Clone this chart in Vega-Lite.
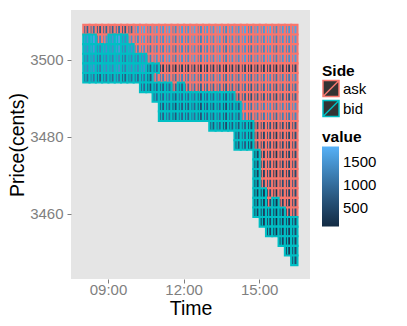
{
"$schema":"https://vega.github.io/schema/vega-lite/v6.json",
"width":239,"height":269,
"autosize":{"type":"none"},
"padding":{"left":71,"top":10,"right":97,"bottom":47},
"background":"white",
"config":{"font":"Liberation Sans","view":{"fill":"#E5E5E5","stroke":null},
"axis":{"domain":false,"labelColor":"#7F7F7F","labelFontSize":15,"tickColor":"#7F7F7F","tickSize":4,"titleFontSize":19.5,"titleFontWeight":"normal","titleColor":"black"}},
"data":{"values":[
{"t":480,"p":3508,"s":"ask","v":900},
{"t":495,"p":3508,"s":"ask","v":1050},
{"t":510,"p":3508,"s":"ask","v":750},{"t":510,"p":3505.5,"s":"ask","v":1300},
{"t":525,"p":3508,"s":"ask","v":950},{"t":525,"p":3505.5,"s":"ask","v":1500},
{"t":540,"p":3508,"s":"ask","v":900},
{"t":555,"p":3508,"s":"ask","v":1050},
{"t":570,"p":3508,"s":"ask","v":750},
{"t":585,"p":3508,"s":"ask","v":950},{"t":585,"p":3505.5,"s":"ask","v":1500},
{"t":600,"p":3508,"s":"ask","v":1550},{"t":600,"p":3505.5,"s":"ask","v":1450},{"t":600,"p":3503,"s":"ask","v":1350},
{"t":615,"p":3508,"s":"ask","v":1700},{"t":615,"p":3505.5,"s":"ask","v":1600},{"t":615,"p":3503,"s":"ask","v":1500},
{"t":630,"p":3508,"s":"ask","v":1400},{"t":630,"p":3505.5,"s":"ask","v":1300},{"t":630,"p":3503,"s":"ask","v":1200},{"t":630,"p":3500.5,"s":"ask","v":1300},
{"t":645,"p":3508,"s":"ask","v":1600},{"t":645,"p":3505.5,"s":"ask","v":1500},{"t":645,"p":3503,"s":"ask","v":1400},{"t":645,"p":3500.5,"s":"ask","v":1500},{"t":645,"p":3495.5,"s":"ask","v":1300},
{"t":660,"p":3508,"s":"ask","v":1550},{"t":660,"p":3505.5,"s":"ask","v":1450},{"t":660,"p":3503,"s":"ask","v":1350},{"t":660,"p":3500.5,"s":"ask","v":1450},{"t":660,"p":3498,"s":"ask","v":400},{"t":660,"p":3495.5,"s":"ask","v":1250},
{"t":675,"p":3508,"s":"ask","v":1700},{"t":675,"p":3505.5,"s":"ask","v":1600},{"t":675,"p":3503,"s":"ask","v":1500},{"t":675,"p":3500.5,"s":"ask","v":1600},{"t":675,"p":3498,"s":"ask","v":550},{"t":675,"p":3495.5,"s":"ask","v":1400},
{"t":690,"p":3508,"s":"ask","v":1400},{"t":690,"p":3505.5,"s":"ask","v":1300},{"t":690,"p":3503,"s":"ask","v":1200},{"t":690,"p":3500.5,"s":"ask","v":1300},{"t":690,"p":3498,"s":"ask","v":250},{"t":690,"p":3495.5,"s":"ask","v":1100},{"t":690,"p":3493,"s":"ask","v":850},
{"t":705,"p":3508,"s":"ask","v":1600},{"t":705,"p":3505.5,"s":"ask","v":1500},{"t":705,"p":3503,"s":"ask","v":1400},{"t":705,"p":3500.5,"s":"ask","v":1500},{"t":705,"p":3498,"s":"ask","v":450},{"t":705,"p":3495.5,"s":"ask","v":1300},
{"t":720,"p":3508,"s":"ask","v":1550},{"t":720,"p":3505.5,"s":"ask","v":1450},{"t":720,"p":3503,"s":"ask","v":1350},{"t":720,"p":3500.5,"s":"ask","v":1450},{"t":720,"p":3498,"s":"ask","v":400},{"t":720,"p":3495.5,"s":"ask","v":1250},{"t":720,"p":3493,"s":"ask","v":1000},
{"t":735,"p":3508,"s":"ask","v":1700},{"t":735,"p":3505.5,"s":"ask","v":1600},{"t":735,"p":3503,"s":"ask","v":1500},{"t":735,"p":3500.5,"s":"ask","v":1600},{"t":735,"p":3498,"s":"ask","v":550},{"t":735,"p":3495.5,"s":"ask","v":1400},{"t":735,"p":3493,"s":"ask","v":1150},
{"t":750,"p":3508,"s":"ask","v":1400},{"t":750,"p":3505.5,"s":"ask","v":1300},{"t":750,"p":3503,"s":"ask","v":1200},{"t":750,"p":3500.5,"s":"ask","v":1300},{"t":750,"p":3498,"s":"ask","v":250},{"t":750,"p":3495.5,"s":"ask","v":1100},{"t":750,"p":3493,"s":"ask","v":850},
{"t":765,"p":3508,"s":"ask","v":1600},{"t":765,"p":3505.5,"s":"ask","v":1500},{"t":765,"p":3503,"s":"ask","v":1400},{"t":765,"p":3500.5,"s":"ask","v":1500},{"t":765,"p":3498,"s":"ask","v":450},{"t":765,"p":3495.5,"s":"ask","v":1300},{"t":765,"p":3493,"s":"ask","v":1050},
{"t":780,"p":3508,"s":"ask","v":1550},{"t":780,"p":3505.5,"s":"ask","v":1450},{"t":780,"p":3503,"s":"ask","v":1350},{"t":780,"p":3500.5,"s":"ask","v":1450},{"t":780,"p":3498,"s":"ask","v":400},{"t":780,"p":3495.5,"s":"ask","v":1250},{"t":780,"p":3493,"s":"ask","v":1000},
{"t":795,"p":3508,"s":"ask","v":1700},{"t":795,"p":3505.5,"s":"ask","v":1600},{"t":795,"p":3503,"s":"ask","v":1500},{"t":795,"p":3500.5,"s":"ask","v":1600},{"t":795,"p":3498,"s":"ask","v":550},{"t":795,"p":3495.5,"s":"ask","v":1400},{"t":795,"p":3493,"s":"ask","v":1150},
{"t":810,"p":3508,"s":"ask","v":1400},{"t":810,"p":3505.5,"s":"ask","v":1300},{"t":810,"p":3503,"s":"ask","v":1200},{"t":810,"p":3500.5,"s":"ask","v":1300},{"t":810,"p":3498,"s":"ask","v":250},{"t":810,"p":3495.5,"s":"ask","v":1100},{"t":810,"p":3493,"s":"ask","v":850},
{"t":825,"p":3508,"s":"ask","v":1600},{"t":825,"p":3505.5,"s":"ask","v":1500},{"t":825,"p":3503,"s":"ask","v":1400},{"t":825,"p":3500.5,"s":"ask","v":1500},{"t":825,"p":3498,"s":"ask","v":450},{"t":825,"p":3495.5,"s":"ask","v":1300},{"t":825,"p":3493,"s":"ask","v":1050},
{"t":840,"p":3508,"s":"ask","v":1550},{"t":840,"p":3505.5,"s":"ask","v":1450},{"t":840,"p":3503,"s":"ask","v":1350},{"t":840,"p":3500.5,"s":"ask","v":1450},{"t":840,"p":3498,"s":"ask","v":400},{"t":840,"p":3495.5,"s":"ask","v":1250},{"t":840,"p":3493,"s":"ask","v":1000},{"t":840,"p":3490.5,"s":"ask","v":800},
{"t":855,"p":3508,"s":"ask","v":1700},{"t":855,"p":3505.5,"s":"ask","v":1600},{"t":855,"p":3503,"s":"ask","v":1500},{"t":855,"p":3500.5,"s":"ask","v":1600},{"t":855,"p":3498,"s":"ask","v":550},{"t":855,"p":3495.5,"s":"ask","v":1400},{"t":855,"p":3493,"s":"ask","v":1150},{"t":855,"p":3490.5,"s":"ask","v":950},{"t":855,"p":3488,"s":"ask","v":1450},{"t":855,"p":3485.5,"s":"ask","v":1350},
{"t":870,"p":3508,"s":"ask","v":1400},{"t":870,"p":3505.5,"s":"ask","v":1300},{"t":870,"p":3503,"s":"ask","v":1200},{"t":870,"p":3500.5,"s":"ask","v":1300},{"t":870,"p":3498,"s":"ask","v":250},{"t":870,"p":3495.5,"s":"ask","v":1100},{"t":870,"p":3493,"s":"ask","v":850},{"t":870,"p":3490.5,"s":"ask","v":650},{"t":870,"p":3488,"s":"ask","v":1150},{"t":870,"p":3485.5,"s":"ask","v":1050},
{"t":885,"p":3508,"s":"ask","v":1600},{"t":885,"p":3505.5,"s":"ask","v":1500},{"t":885,"p":3503,"s":"ask","v":1400},{"t":885,"p":3500.5,"s":"ask","v":1500},{"t":885,"p":3498,"s":"ask","v":450},{"t":885,"p":3495.5,"s":"ask","v":1300},{"t":885,"p":3493,"s":"ask","v":1050},{"t":885,"p":3490.5,"s":"ask","v":850},{"t":885,"p":3488,"s":"ask","v":1350},{"t":885,"p":3485.5,"s":"ask","v":1250},{"t":885,"p":3483,"s":"ask","v":650},{"t":885,"p":3480.5,"s":"ask","v":550},{"t":885,"p":3478,"s":"ask","v":600},
{"t":900,"p":3508,"s":"ask","v":1550},{"t":900,"p":3505.5,"s":"ask","v":1450},{"t":900,"p":3503,"s":"ask","v":1350},{"t":900,"p":3500.5,"s":"ask","v":1450},{"t":900,"p":3498,"s":"ask","v":400},{"t":900,"p":3495.5,"s":"ask","v":1250},{"t":900,"p":3493,"s":"ask","v":1000},{"t":900,"p":3490.5,"s":"ask","v":800},{"t":900,"p":3488,"s":"ask","v":1300},{"t":900,"p":3485.5,"s":"ask","v":1200},{"t":900,"p":3483,"s":"ask","v":600},{"t":900,"p":3480.5,"s":"ask","v":500},{"t":900,"p":3478,"s":"ask","v":550},{"t":900,"p":3475.5,"s":"ask","v":450},{"t":900,"p":3473,"s":"ask","v":500},{"t":900,"p":3470.5,"s":"ask","v":400},{"t":900,"p":3468,"s":"ask","v":550},
{"t":915,"p":3508,"s":"ask","v":1700},{"t":915,"p":3505.5,"s":"ask","v":1600},{"t":915,"p":3503,"s":"ask","v":1500},{"t":915,"p":3500.5,"s":"ask","v":1600},{"t":915,"p":3498,"s":"ask","v":550},{"t":915,"p":3495.5,"s":"ask","v":1400},{"t":915,"p":3493,"s":"ask","v":1150},{"t":915,"p":3490.5,"s":"ask","v":950},{"t":915,"p":3488,"s":"ask","v":1450},{"t":915,"p":3485.5,"s":"ask","v":1350},{"t":915,"p":3483,"s":"ask","v":750},{"t":915,"p":3480.5,"s":"ask","v":650},{"t":915,"p":3478,"s":"ask","v":700},{"t":915,"p":3475.5,"s":"ask","v":600},{"t":915,"p":3473,"s":"ask","v":650},{"t":915,"p":3470.5,"s":"ask","v":550},{"t":915,"p":3468,"s":"ask","v":700},{"t":915,"p":3465.5,"s":"ask","v":600},{"t":915,"p":3463,"s":"ask","v":550},
{"t":930,"p":3508,"s":"ask","v":1400},{"t":930,"p":3505.5,"s":"ask","v":1300},{"t":930,"p":3503,"s":"ask","v":1200},{"t":930,"p":3500.5,"s":"ask","v":1300},{"t":930,"p":3498,"s":"ask","v":250},{"t":930,"p":3495.5,"s":"ask","v":1100},{"t":930,"p":3493,"s":"ask","v":850},{"t":930,"p":3490.5,"s":"ask","v":650},{"t":930,"p":3488,"s":"ask","v":1150},{"t":930,"p":3485.5,"s":"ask","v":1050},{"t":930,"p":3483,"s":"ask","v":450},{"t":930,"p":3480.5,"s":"ask","v":350},{"t":930,"p":3478,"s":"ask","v":400},{"t":930,"p":3475.5,"s":"ask","v":300},{"t":930,"p":3473,"s":"ask","v":350},{"t":930,"p":3470.5,"s":"ask","v":250},{"t":930,"p":3468,"s":"ask","v":400},{"t":930,"p":3465.5,"s":"ask","v":300},
{"t":945,"p":3508,"s":"ask","v":1600},{"t":945,"p":3505.5,"s":"ask","v":1500},{"t":945,"p":3503,"s":"ask","v":1400},{"t":945,"p":3500.5,"s":"ask","v":1500},{"t":945,"p":3498,"s":"ask","v":450},{"t":945,"p":3495.5,"s":"ask","v":1300},{"t":945,"p":3493,"s":"ask","v":1050},{"t":945,"p":3490.5,"s":"ask","v":850},{"t":945,"p":3488,"s":"ask","v":1350},{"t":945,"p":3485.5,"s":"ask","v":1250},{"t":945,"p":3483,"s":"ask","v":650},{"t":945,"p":3480.5,"s":"ask","v":550},{"t":945,"p":3478,"s":"ask","v":600},{"t":945,"p":3475.5,"s":"ask","v":500},{"t":945,"p":3473,"s":"ask","v":550},{"t":945,"p":3470.5,"s":"ask","v":450},{"t":945,"p":3468,"s":"ask","v":600},{"t":945,"p":3465.5,"s":"ask","v":500},{"t":945,"p":3463,"s":"ask","v":450},
{"t":960,"p":3508,"s":"ask","v":1550},{"t":960,"p":3505.5,"s":"ask","v":1450},{"t":960,"p":3503,"s":"ask","v":1350},{"t":960,"p":3500.5,"s":"ask","v":1450},{"t":960,"p":3498,"s":"ask","v":400},{"t":960,"p":3495.5,"s":"ask","v":1250},{"t":960,"p":3493,"s":"ask","v":1000},{"t":960,"p":3490.5,"s":"ask","v":800},{"t":960,"p":3488,"s":"ask","v":1300},{"t":960,"p":3485.5,"s":"ask","v":1200},{"t":960,"p":3483,"s":"ask","v":600},{"t":960,"p":3480.5,"s":"ask","v":500},{"t":960,"p":3478,"s":"ask","v":550},{"t":960,"p":3475.5,"s":"ask","v":450},{"t":960,"p":3473,"s":"ask","v":500},{"t":960,"p":3470.5,"s":"ask","v":400},{"t":960,"p":3468,"s":"ask","v":550},{"t":960,"p":3465.5,"s":"ask","v":450},{"t":960,"p":3463,"s":"ask","v":400},{"t":960,"p":3460.5,"s":"ask","v":500},
{"t":975,"p":3508,"s":"ask","v":1700},{"t":975,"p":3505.5,"s":"ask","v":1600},{"t":975,"p":3503,"s":"ask","v":1500},{"t":975,"p":3500.5,"s":"ask","v":1600},{"t":975,"p":3498,"s":"ask","v":550},{"t":975,"p":3495.5,"s":"ask","v":1400},{"t":975,"p":3493,"s":"ask","v":1150},{"t":975,"p":3490.5,"s":"ask","v":950},{"t":975,"p":3488,"s":"ask","v":1450},{"t":975,"p":3485.5,"s":"ask","v":1350},{"t":975,"p":3483,"s":"ask","v":750},{"t":975,"p":3480.5,"s":"ask","v":650},{"t":975,"p":3478,"s":"ask","v":700},{"t":975,"p":3475.5,"s":"ask","v":600},{"t":975,"p":3473,"s":"ask","v":650},{"t":975,"p":3470.5,"s":"ask","v":550},{"t":975,"p":3468,"s":"ask","v":700},{"t":975,"p":3465.5,"s":"ask","v":600},{"t":975,"p":3463,"s":"ask","v":550},{"t":975,"p":3460.5,"s":"ask","v":650},
{"t":480,"p":3505.5,"s":"bid","v":1500},{"t":480,"p":3503,"s":"bid","v":1400},{"t":480,"p":3500.5,"s":"bid","v":1200},{"t":480,"p":3498,"s":"bid","v":1300},{"t":480,"p":3495.5,"s":"bid","v":900},
{"t":495,"p":3505.5,"s":"bid","v":1650},{"t":495,"p":3503,"s":"bid","v":1550},{"t":495,"p":3500.5,"s":"bid","v":1350},{"t":495,"p":3498,"s":"bid","v":1450},{"t":495,"p":3495.5,"s":"bid","v":1050},
{"t":510,"p":3503,"s":"bid","v":1250},{"t":510,"p":3500.5,"s":"bid","v":1050},{"t":510,"p":3498,"s":"bid","v":1150},{"t":510,"p":3495.5,"s":"bid","v":750},
{"t":525,"p":3503,"s":"bid","v":1450},{"t":525,"p":3500.5,"s":"bid","v":1250},{"t":525,"p":3498,"s":"bid","v":1350},{"t":525,"p":3495.5,"s":"bid","v":950},
{"t":540,"p":3505.5,"s":"bid","v":1500},{"t":540,"p":3503,"s":"bid","v":1400},{"t":540,"p":3500.5,"s":"bid","v":1200},{"t":540,"p":3498,"s":"bid","v":1300},{"t":540,"p":3495.5,"s":"bid","v":900},
{"t":555,"p":3505.5,"s":"bid","v":1650},{"t":555,"p":3503,"s":"bid","v":1550},{"t":555,"p":3500.5,"s":"bid","v":1350},{"t":555,"p":3498,"s":"bid","v":1450},{"t":555,"p":3495.5,"s":"bid","v":1050},
{"t":570,"p":3505.5,"s":"bid","v":1350},{"t":570,"p":3503,"s":"bid","v":1250},{"t":570,"p":3500.5,"s":"bid","v":1050},{"t":570,"p":3498,"s":"bid","v":1150},{"t":570,"p":3495.5,"s":"bid","v":750},
{"t":585,"p":3503,"s":"bid","v":1450},{"t":585,"p":3500.5,"s":"bid","v":1250},{"t":585,"p":3498,"s":"bid","v":1350},{"t":585,"p":3495.5,"s":"bid","v":950},
{"t":600,"p":3500.5,"s":"bid","v":1200},{"t":600,"p":3498,"s":"bid","v":1300},{"t":600,"p":3495.5,"s":"bid","v":900},
{"t":615,"p":3500.5,"s":"bid","v":1350},{"t":615,"p":3498,"s":"bid","v":1450},{"t":615,"p":3495.5,"s":"bid","v":1050},{"t":615,"p":3493,"s":"bid","v":900},
{"t":630,"p":3498,"s":"bid","v":750},{"t":630,"p":3495.5,"s":"bid","v":650},{"t":630,"p":3493,"s":"bid","v":600},
{"t":645,"p":3498,"s":"bid","v":950},{"t":645,"p":3493,"s":"bid","v":800},{"t":645,"p":3490.5,"s":"bid","v":900},
{"t":660,"p":3493,"s":"bid","v":750},{"t":660,"p":3490.5,"s":"bid","v":850},{"t":660,"p":3488,"s":"bid","v":700},{"t":660,"p":3485.5,"s":"bid","v":800},
{"t":675,"p":3493,"s":"bid","v":900},{"t":675,"p":3490.5,"s":"bid","v":1000},{"t":675,"p":3488,"s":"bid","v":850},{"t":675,"p":3485.5,"s":"bid","v":950},
{"t":690,"p":3490.5,"s":"bid","v":700},{"t":690,"p":3488,"s":"bid","v":550},{"t":690,"p":3485.5,"s":"bid","v":650},
{"t":705,"p":3493,"s":"bid","v":800},{"t":705,"p":3490.5,"s":"bid","v":900},{"t":705,"p":3488,"s":"bid","v":750},{"t":705,"p":3485.5,"s":"bid","v":850},
{"t":720,"p":3490.5,"s":"bid","v":850},{"t":720,"p":3488,"s":"bid","v":700},{"t":720,"p":3485.5,"s":"bid","v":800},
{"t":735,"p":3490.5,"s":"bid","v":1000},{"t":735,"p":3488,"s":"bid","v":850},{"t":735,"p":3485.5,"s":"bid","v":950},
{"t":750,"p":3490.5,"s":"bid","v":700},{"t":750,"p":3488,"s":"bid","v":550},{"t":750,"p":3485.5,"s":"bid","v":650},
{"t":765,"p":3490.5,"s":"bid","v":900},{"t":765,"p":3488,"s":"bid","v":750},{"t":765,"p":3485.5,"s":"bid","v":850},
{"t":780,"p":3490.5,"s":"bid","v":850},{"t":780,"p":3488,"s":"bid","v":700},{"t":780,"p":3485.5,"s":"bid","v":800},{"t":780,"p":3483,"s":"bid","v":650},
{"t":795,"p":3490.5,"s":"bid","v":1000},{"t":795,"p":3488,"s":"bid","v":850},{"t":795,"p":3485.5,"s":"bid","v":950},{"t":795,"p":3483,"s":"bid","v":800},
{"t":810,"p":3490.5,"s":"bid","v":700},{"t":810,"p":3488,"s":"bid","v":550},{"t":810,"p":3485.5,"s":"bid","v":650},{"t":810,"p":3483,"s":"bid","v":500},
{"t":825,"p":3490.5,"s":"bid","v":900},{"t":825,"p":3488,"s":"bid","v":750},{"t":825,"p":3485.5,"s":"bid","v":850},{"t":825,"p":3483,"s":"bid","v":700},
{"t":840,"p":3488,"s":"bid","v":700},{"t":840,"p":3485.5,"s":"bid","v":800},{"t":840,"p":3483,"s":"bid","v":650},{"t":840,"p":3480.5,"s":"bid","v":700},{"t":840,"p":3478,"s":"bid","v":600},
{"t":855,"p":3483,"s":"bid","v":800},{"t":855,"p":3480.5,"s":"bid","v":850},{"t":855,"p":3478,"s":"bid","v":750},
{"t":870,"p":3483,"s":"bid","v":500},{"t":870,"p":3480.5,"s":"bid","v":550},{"t":870,"p":3478,"s":"bid","v":450},
{"t":885,"p":3475.5,"s":"bid","v":400},{"t":885,"p":3473,"s":"bid","v":450},{"t":885,"p":3470.5,"s":"bid","v":350},{"t":885,"p":3468,"s":"bid","v":400},{"t":885,"p":3465.5,"s":"bid","v":300},{"t":885,"p":3463,"s":"bid","v":350},{"t":885,"p":3460.5,"s":"bid","v":400},
{"t":900,"p":3465.5,"s":"bid","v":300},{"t":900,"p":3463,"s":"bid","v":350},{"t":900,"p":3460.5,"s":"bid","v":400},{"t":900,"p":3458,"s":"bid","v":300},
{"t":915,"p":3460.5,"s":"bid","v":500},{"t":915,"p":3458,"s":"bid","v":450},{"t":915,"p":3455.5,"s":"bid","v":400},
{"t":930,"p":3463,"s":"bid","v":200},{"t":930,"p":3460.5,"s":"bid","v":250},{"t":930,"p":3458,"s":"bid","v":150},{"t":930,"p":3455.5,"s":"bid","v":200},
{"t":945,"p":3460.5,"s":"bid","v":400},{"t":945,"p":3458,"s":"bid","v":350},{"t":945,"p":3455.5,"s":"bid","v":300},{"t":945,"p":3453,"s":"bid","v":400},
{"t":960,"p":3458,"s":"bid","v":300},{"t":960,"p":3455.5,"s":"bid","v":350},{"t":960,"p":3453,"s":"bid","v":250},{"t":960,"p":3450.5,"s":"bid","v":300},
{"t":975,"p":3458,"s":"bid","v":450},{"t":975,"p":3455.5,"s":"bid","v":500},{"t":975,"p":3453,"s":"bid","v":400},{"t":975,"p":3450.5,"s":"bid","v":450},{"t":975,"p":3448,"s":"bid","v":500}
]},
"encoding":{
"x":{"field":"t","type":"quantitative","bin":{"step":15,"extent":[480,990],"nice":false},
 "scale":{"domain":[452,1021],"nice":false,"zero":false},
 "axis":{"title":"Time","values":[540,630,720,810,900,990],
  "labelExpr":"datum.value % 180 === 0 ? (datum.value < 600 ? '0' : '') + floor(datum.value/60) + ':00' : ''",
  "gridColor":{"condition":{"test":"datum.value % 180 === 0","value":"#FFFFFF"},"value":"#F2F2F2"},
  "gridWidth":{"condition":{"test":"datum.value % 180 === 0","value":1.5},"value":0.8},
  "tickOpacity":{"condition":{"test":"datum.value % 180 === 0","value":1},"value":0},
  "labelPadding":-1,"titlePadding":2}},
"y":{"field":"p","type":"quantitative","bin":{"step":2.5,"extent":[3446.75,3509.25],"nice":false},
 "scale":{"domain":[3443,3513],"nice":false,"zero":false},
 "axis":{"title":"Price(cents)","values":[3450,3460,3470,3480,3490,3500,3510],
  "labelExpr":"datum.value % 20 === 0 ? '' + datum.value : ''",
  "gridColor":{"condition":{"test":"datum.value % 20 === 0","value":"#FFFFFF"},"value":"#F2F2F2"},
  "gridWidth":{"condition":{"test":"datum.value % 20 === 0","value":1.5},"value":0.8},
  "tickOpacity":{"condition":{"test":"datum.value % 20 === 0","value":1},"value":0},
  "labelPadding":4,"titlePadding":2}},
"stroke":{"field":"s","type":"nominal","title":"Side",
  "scale":{"domain":["ask","bid"],"range":["#F8766D","#00BFC4"]},
  "legend":{"orient":"none","legendX":251,"legendY":54,"symbolType":"M-1,-1H1V1H-1ZM-1,1L1,-1","symbolSize":256,"symbolFillColor":"#333333","symbolStrokeWidth":1.5,"labelFontSize":15,"labelColor":"black","titleFontSize":15.5,"titleFontWeight":"bold","titleColor":"black","rowPadding":-3,"labelOffset":3,"titlePadding":0,"padding":0}}
},
"layer":[
{"mark":{"type":"rect","strokeWidth":2.1},
 "encoding":{
 "fill":{"field":"v","type":"quantitative","title":"value",
  "scale":{"domain":[90,1830],"range":["#132B43","#56B1F7"],"interpolate":"lab"},
  "legend":{"orient":"none","legendX":251,"legendY":120,"direction":"vertical","gradientLength":80,"gradientThickness":17,"values":[500,1000,1500],"format":"d","labelFontSize":15,"labelColor":"black","titleFontSize":15.5,"titleFontWeight":"bold","titleColor":"black","labelOffset":4,"titlePadding":1,"gradientStrokeWidth":0,"padding":0}}}},
{"mark":{"type":"tick","orient":"vertical","filled":false,"thickness":0.2,"strokeWidth":1.2,"size":7.5,"opacity":1}}
]
}
